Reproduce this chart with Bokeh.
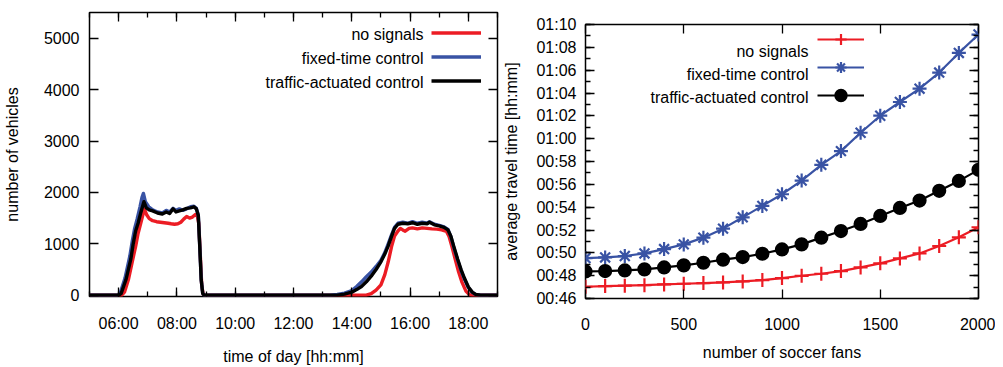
from bokeh.plotting import figure
from bokeh.models import Range1d, FixedTicker, LinearAxis, Legend, LegendItem, Label
from bokeh.layouts import row, column
from bokeh.embed import file_html
from bokeh.resources import INLINE

FONT = "Liberation Sans"
RED = "#ec1c24"
BLUE = "#3953a4"
BLACK = "#000000"

# ---------------- left chart data: number of vehicles over time of day ----------------
series_names = ["no signals", "fixed-time control", "traffic-actuated control"]

times_no_signals = ["05:00", "06:06", "06:12", "06:20", "06:28", "06:35", "06:40", "06:46", "06:53", "06:58",
                    "07:03", "07:10", "07:18", "07:26", "07:34", "07:42", "07:48", "07:55", "08:02", "08:08",
                    "08:14", "08:20", "08:26", "08:32", "08:38", "08:42", "08:45", "08:48", "08:51", "08:54",
                    "08:57", "14:30", "14:40", "14:50", "15:00", "15:08", "15:15", "15:22", "15:28", "15:35",
                    "15:40", "15:45", "15:50", "15:58", "16:05", "16:15", "16:25", "16:35", "16:45", "16:55",
                    "17:05", "17:15", "17:20", "17:26", "17:33", "17:40", "17:47", "17:55", "18:02", "18:08",
                    "19:00"]
vehicles_no_signals = [0, 0, 60, 300, 650, 950, 1200, 1420, 1680, 1560,
                       1490, 1450, 1430, 1420, 1410, 1400, 1390, 1380, 1390, 1420,
                       1480, 1530, 1500, 1520, 1570, 1540, 1400, 800, 200, 20,
                       0, 0, 30, 100, 200, 400, 650, 950, 1150, 1250,
                       1300, 1270, 1245, 1300, 1310, 1290, 1310, 1300, 1290, 1285,
                       1270, 1240, 1150, 950, 700, 450, 250, 80, 10, 0,
                       0]

times_fixed_time = ["05:00", "05:58", "06:03", "06:13", "06:23", "06:28", "06:33", "06:38", "06:44", "06:48",
                    "06:51", "06:55", "07:02", "07:10", "07:20", "07:30", "07:38", "07:45", "07:52", "07:58",
                    "08:05", "08:12", "08:20", "08:28", "08:35", "08:40", "08:44", "08:47", "08:50", "08:53",
                    "08:56", "13:15", "13:30", "13:45", "14:00", "14:10", "14:20", "14:30", "14:40", "14:50",
                    "15:00", "15:08", "15:15", "15:22", "15:28", "15:35", "15:45", "15:55", "16:05", "16:15",
                    "16:25", "16:35", "16:40", "16:50", "17:00", "17:10", "17:18", "17:24", "17:30", "17:38",
                    "17:45", "17:52", "18:00", "18:08", "18:15", "18:25", "19:00"]
vehicles_fixed_time = [0, 0, 40, 330, 760, 1050, 1300, 1480, 1720, 1900,
                       1980, 1820, 1720, 1660, 1620, 1600, 1650, 1620, 1690, 1650,
                       1680, 1650, 1680, 1720, 1730, 1690, 1560, 950, 300, 40,
                       0, 0, 15, 40, 90, 170, 260, 360, 450, 560,
                       680, 830, 1000, 1180, 1320, 1400, 1420, 1400, 1430, 1400,
                       1420, 1400, 1430, 1380, 1360, 1330, 1280, 1140, 930, 680,
                       480, 310, 150, 55, 15, 0, 0]

times_actuated = ["05:00", "06:00", "06:05", "06:15", "06:25", "06:30", "06:35", "06:40", "06:46", "06:52",
                  "06:57", "07:03", "07:10", "07:20", "07:30", "07:38", "07:45", "07:52", "07:58", "08:05",
                  "08:12", "08:20", "08:28", "08:35", "08:40", "08:44", "08:47", "08:50", "08:53", "08:56",
                  "13:30", "13:45", "14:00", "14:10", "14:20", "14:30", "14:40", "14:50", "15:00", "15:08",
                  "15:15", "15:22", "15:28", "15:35", "15:45", "15:55", "16:05", "16:15", "16:25", "16:35",
                  "16:40", "16:50", "17:00", "17:10", "17:18", "17:24", "17:30", "17:38", "17:45", "17:52",
                  "18:00", "18:08", "18:15", "18:25", "19:00"]
vehicles_actuated = [0, 0, 30, 300, 700, 1000, 1250, 1400, 1620, 1820,
                     1700, 1660, 1640, 1600, 1580, 1620, 1590, 1680, 1620, 1640,
                     1660, 1690, 1700, 1720, 1680, 1550, 950, 300, 40, 0,
                     0, 20, 60, 110, 170, 260, 370, 500, 650, 800,
                     960, 1150, 1300, 1380, 1400, 1390, 1410, 1380, 1400, 1390,
                     1420, 1370, 1350, 1320, 1270, 1150, 950, 700, 500, 330,
                     160, 60, 15, 0, 0]

hour_ticks = [6, 8, 10, 12, 14, 16, 18]
hour_tick_labels = ["06:00", "08:00", "10:00", "12:00", "14:00", "16:00", "18:00"]
hour_minor_ticks = [5, 6, 7, 8, 9, 10, 11, 12, 13, 14, 15, 16, 17, 18, 19]
vehicle_ticks = [0, 1000, 2000, 3000, 4000, 5000]

# ---------------- right chart data: average travel time vs number of soccer fans ----------------
soccer_fans = [0, 100, 200, 300, 400, 500, 600, 700, 800, 900, 1000,
               1100, 1200, 1300, 1400, 1500, 1600, 1700, 1800, 1900, 2000]
# average travel time in minutes
travel_no_signals = [47.03, 47.09, 47.12, 47.17, 47.23, 47.29, 47.35, 47.41, 47.50, 47.61, 47.79,
                     47.99, 48.17, 48.40, 48.72, 49.08, 49.51, 49.95, 50.60, 51.36, 52.24]
travel_fixed_time = [49.54, 49.60, 49.72, 49.95, 50.33, 50.74, 51.33, 52.12, 53.11, 54.11, 55.13,
                     56.33, 57.71, 58.91, 60.52, 62.01, 63.21, 64.38, 65.79, 67.51, 69.12]
travel_actuated = [48.37, 48.40, 48.46, 48.55, 48.72, 48.90, 49.13, 49.40, 49.63, 49.92, 50.30,
                   50.74, 51.33, 51.91, 52.53, 53.23, 53.93, 54.58, 55.43, 56.30, 57.27]

minute_ticks = [46, 48, 50, 52, 54, 56, 58, 60, 62, 64, 66, 68, 70]
minute_tick_labels = ["00:46", "00:48", "00:50", "00:52", "00:54", "00:56", "00:58",
                      "01:00", "01:02", "01:04", "01:06", "01:08", "01:10"]
minute_minor_ticks = [46, 47, 48, 49, 50, 51, 52, 53, 54, 55, 56, 57, 58,
                      59, 60, 61, 62, 63, 64, 65, 66, 67, 68, 69, 70]
fan_ticks = [0, 500, 1000, 1500, 2000]
fan_tick_labels = ["0", "500", "1000", "1500", "2000"]


def to_hours(t):
    h, m = t.split(":")
    return int(h) + int(m) / 60.0


def style_axis(ax, ticks, minor, labels=None, standoff=10, show=True):
    ax.ticker = FixedTicker(ticks=ticks, minor_ticks=minor)
    ax.axis_line_color = None
    ax.major_tick_in = 9
    ax.major_tick_out = 0
    ax.minor_tick_in = 5
    ax.minor_tick_out = 0
    ax.major_tick_line_color = "black"
    ax.minor_tick_line_color = "black"
    ax.major_tick_line_width = 1.3
    ax.minor_tick_line_width = 1.3
    ax.major_label_text_font = FONT
    ax.major_label_text_font_size = "16px"
    ax.major_label_text_color = "black"
    ax.axis_label_text_font = FONT
    ax.axis_label_text_font_size = "16px"
    ax.axis_label_text_font_style = "normal"
    ax.axis_label_text_color = "black"
    ax.major_label_standoff = standoff
    if show:
        if labels is not None:
            ax.major_label_overrides = {t: l for t, l in zip(ticks, labels)}
    else:
        ax.major_label_overrides = {t: "" for t in ticks}
        ax.major_label_standoff = 0
        ax.major_label_text_font_size = "0px"


def base_figure(width, x_range, y_range, left, right, top, bottom):
    p = figure(width=width, height=367, x_range=x_range, y_range=y_range,
               output_backend="svg", toolbar_location=None,
               min_border_left=left, min_border_right=right,
               min_border_top=top, min_border_bottom=bottom)
    p.title.visible = False
    p.grid.visible = False
    p.outline_line_color = "black"
    p.outline_line_width = 1.5
    p.background_fill_color = "white"
    p.border_fill_color = "white"
    return p


def add_text_legend(p, names, x, ys):
    for name, y in zip(names, ys):
        p.add_layout(Label(x=x, y=y, x_units="screen", y_units="screen", text=name,
                           text_align="right", text_baseline="middle",
                           text_font=FONT, text_font_size="16px", text_color="black"))


# ---------------- left figure ----------------
p1 = base_figure(500, Range1d(5, 19), Range1d(-25, 5500), 87, 3, 12, 70)
style_axis(p1.xaxis[0], hour_ticks, hour_minor_ticks, hour_tick_labels, standoff=18)
style_axis(p1.yaxis[0], vehicle_ticks, [], None, standoff=10)
p1.xaxis[0].axis_label = "time of day [hh:mm]"
p1.xaxis[0].axis_label_standoff = 13
p1.yaxis[0].axis_label = "number of vehicles"
p1.yaxis[0].axis_label_standoff = 20
ax_top1 = LinearAxis()
style_axis(ax_top1, hour_ticks, hour_minor_ticks, show=False)
p1.add_layout(ax_top1, "above")
ax_right1 = LinearAxis()
style_axis(ax_right1, vehicle_ticks, [], show=False)
p1.add_layout(ax_right1, "right")

left_series = [
    (times_no_signals, vehicles_no_signals, RED),
    (times_fixed_time, vehicles_fixed_time, BLUE),
    (times_actuated, vehicles_actuated, BLACK),
]
left_renderers = []
for times, vals, color in left_series:
    r = p1.line([to_hours(t) for t in times], vals, line_color=color, line_width=3.4,
                line_join="round")
    left_renderers.append(r)

leg1 = Legend(items=[LegendItem(label=" ", renderers=[r]) for r in left_renderers],
              location=(342, 205), glyph_width=50, glyph_height=21, spacing=3, padding=0,
              margin=0, label_standoff=0, label_width=0, label_height=0,
              label_text_font_size="1px", border_line_alpha=0, background_fill_alpha=0)
p1.add_layout(leg1)
add_text_legend(p1, series_names, 334, [262, 238, 214])

# ---------------- right figure ----------------
p2 = base_figure(495, Range1d(0, 2000), Range1d(46, 70), 83, 17, 24, 69)
style_axis(p2.xaxis[0], fan_ticks, [], fan_tick_labels, standoff=19)
style_axis(p2.yaxis[0], minute_ticks, minute_minor_ticks, minute_tick_labels, standoff=9)
p2.xaxis[0].axis_label = "number of soccer fans"
p2.xaxis[0].axis_label_standoff = 11
p2.yaxis[0].axis_label = "average travel time [hh:mm]"
p2.yaxis[0].axis_label_standoff = 13
ax_top2 = LinearAxis()
style_axis(ax_top2, fan_ticks, [], show=False)
p2.add_layout(ax_top2, "above")
ax_right2 = LinearAxis()
style_axis(ax_right2, minute_ticks, minute_minor_ticks, show=False)
p2.add_layout(ax_right2, "right")

right_series = [
    (travel_no_signals, RED, "cross", 14),
    (travel_fixed_time, BLUE, "asterisk", 14),
    (travel_actuated, BLACK, "circle", 12),
]
right_items = []
for vals, color, marker, size in right_series:
    rl = p2.line(soccer_fans, vals, line_color=color, line_width=2.2)
    rs = p2.scatter(soccer_fans, vals, marker=marker, size=size, line_color=color,
                    fill_color=color, line_width=2.2)
    right_items.append(LegendItem(label=" ", renderers=[rl, rs]))

leg2 = Legend(items=right_items, location=(232, 189), glyph_width=47, glyph_height=28, spacing=-5,
              padding=0, margin=0, label_standoff=0, label_width=0, label_height=0,
              label_text_font_size="1px", border_line_alpha=0, background_fill_alpha=0)
p2.add_layout(leg2)
add_text_legend(p2, series_names, 223, [247, 224, 201])

layout = row(column(p1), column(p2))
open("out.html", "w").write(file_html(layout, INLINE))
